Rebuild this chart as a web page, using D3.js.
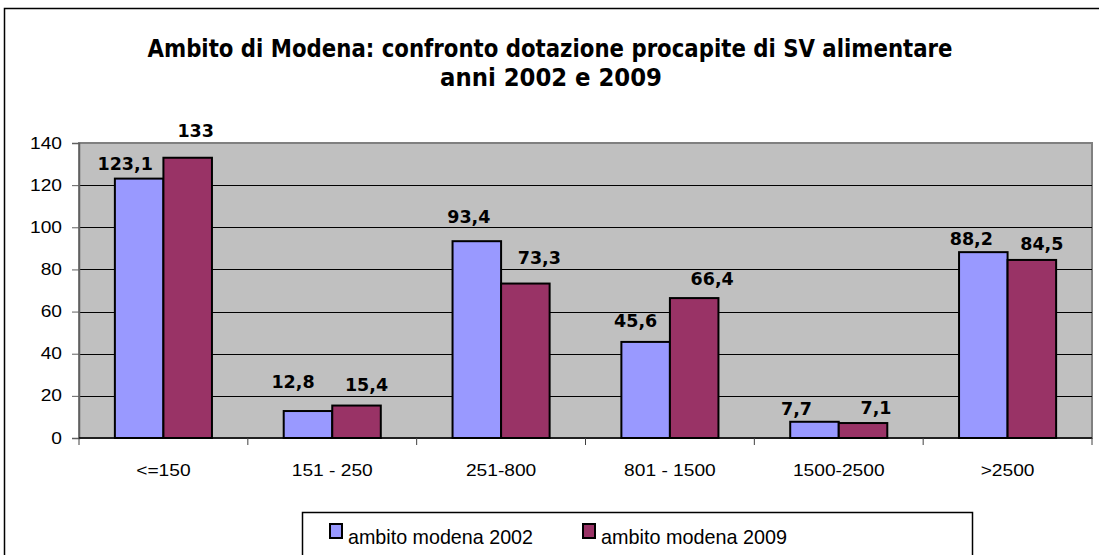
<!DOCTYPE html>
<html>
<head>
<meta charset="utf-8">
<script src="https://cdn.jsdelivr.net/npm/d3@7"></script>
<style>
  body { margin: 0; background: #fff; }
  svg { display: block; }
</style>
</head>
<body>
<div id="chart"></div>
<script>
// data
const categories = ['<=150', '151 - 250', '251-800', '801 - 1500', '1500-2500', '>2500']
const series = ['ambito modena 2002', 'ambito modena 2009']
const values2002 = [123.1, 12.8, 93.4, 45.6, 7.7, 88.2]
const values2009 = [133, 15.4, 73.3, 66.4, 7.1, 84.5]
const labels2002 = ['123,1', '12,8', '93,4', '45,6', '7,7', '88,2']
const labels2009 = ['133', '15,4', '73,3', '66,4', '7,1', '84,5']
const yTicks = [0, 20, 40, 60, 80, 100, 120, 140]
const colors = ['#9999FF', '#993366']

// labels were hand placed in the original, so nudge each one a bit
const nudge2002 = [[-14, 9], [-15, 23], [-8, 18], [-10, 15], [-18, 7], [-12, 7]]
const nudge2009 = [[8, 21], [10, 15], [14, 20], [18, 13], [13, 9], [10, 10]]

const W = 1099, H = 555
const plot = { left: 79, right: 1092, top: 143, bottom: 438 }
const wide = 'scale(1.2,1)'   // the original text is drawn a little stretched

const svg = d3.select('#chart').append('svg')
    .attr('width', W)
    .attr('height', H)

// outer chart frame (right and bottom edges fall off the picture)
svg.append('rect')
    .attr('x', 4.5).attr('y', 8.5)
    .attr('width', W + 10).attr('height', H)
    .attr('fill', '#fff')
    .attr('stroke', '#000')
    .attr('stroke-width', 1.5)

// title
const titleFont = '"DejaVu Sans Condensed", "DejaVu Sans", sans-serif'
svg.append('text')
    .attr('x', 550).attr('y', 57)
    .attr('text-anchor', 'middle')
    .attr('textLength', 805)
    .attr('lengthAdjust', 'spacingAndGlyphs')
    .style('font-family', titleFont)
    .style('font-stretch', 'condensed')
    .style('font-weight', 'bold')
    .style('font-size', '24px')
    .text('Ambito di Modena: confronto dotazione procapite di SV alimentare')
svg.append('text')
    .attr('x', 551).attr('y', 86)
    .attr('text-anchor', 'middle')
    .attr('textLength', 222)
    .attr('lengthAdjust', 'spacingAndGlyphs')
    .style('font-family', titleFont)
    .style('font-stretch', 'condensed')
    .style('font-weight', 'bold')
    .style('font-size', '24px')
    .text('anni 2002 e 2009')

const x0 = d3.scaleBand()
    .domain(categories)
    .range([plot.left, plot.right])
    .paddingInner(0.425)
    .paddingOuter(0.2125)

const x1 = d3.scaleBand()
    .domain(series)
    .range([0, x0.bandwidth()])

const y = d3.scaleLinear()
    .domain([0, 140])
    .range([plot.bottom, plot.top])

// plot background
svg.append('rect')
    .attr('x', plot.left).attr('y', plot.top)
    .attr('width', plot.right - plot.left)
    .attr('height', plot.bottom - plot.top)
    .attr('fill', '#C0C0C0')
    .attr('stroke', '#808080')
    .attr('stroke-width', 2)

// gridlines
svg.append('g')
    .selectAll('line')
    .data(yTicks.filter(d => d > 0 && d < 140))
    .enter()
    .append('line')
    .attr('x1', plot.left).attr('x2', plot.right)
    .attr('y1', d => Math.round(y(d)) + 0.5)
    .attr('y2', d => Math.round(y(d)) + 0.5)
    .attr('stroke', '#000')
    .attr('stroke-width', 1)

// y axis
const yAxis = svg.append('g')
    .attr('transform', 'translate(' + plot.left + ',0)')
    .call(d3.axisLeft(y).tickValues(yTicks).tickSize(7).tickPadding(10).tickFormat(d3.format('d')))
yAxis.select('.domain').attr('stroke', '#606060').attr('stroke-width', 1.5)
yAxis.selectAll('.tick line').attr('stroke', '#606060')
yAxis.selectAll('.tick text')
    .attr('x', 0)
    .attr('transform', 'translate(-17,0) ' + wide)
    .style('font-family', '"Liberation Sans", Arial, sans-serif')
    .style('font-size', '16px')
    .attr('fill', '#000')

// x axis: ticks sit on the category boundaries
const xAxis = svg.append('g')
    .attr('transform', 'translate(0,' + plot.bottom + ')')
xAxis.append('line')
    .attr('x1', plot.left).attr('x2', plot.right)
    .attr('stroke', '#000').attr('stroke-width', 1.5)
const step = x0.step()
xAxis.selectAll('line.tk')
    .data(d3.range(categories.length + 1))
    .enter()
    .append('line')
    .attr('class', 'tk')
    .attr('x1', i => plot.left + i * step)
    .attr('x2', i => plot.left + i * step)
    .attr('y1', 0).attr('y2', 7)
    .attr('stroke', '#404040')
xAxis.selectAll('text')
    .data(categories)
    .enter()
    .append('text')
    .attr('transform', d => 'translate(' + (x0(d) + x0.bandwidth() / 2) + ',38) ' + wide)
    .attr('text-anchor', 'middle')
    .style('font-family', '"Liberation Sans", Arial, sans-serif')
    .style('font-size', '16px')
    .text(d => d)

// bars
const rows = categories.map((c, i) => ({
    cat: c,
    vals: [
        { s: series[0], v: values2002[i], lab: labels2002[i], n: nudge2002[i], c: colors[0] },
        { s: series[1], v: values2009[i], lab: labels2009[i], n: nudge2009[i], c: colors[1] }
    ]
}))

const groups = svg.append('g')
    .selectAll('g')
    .data(rows)
    .enter()
    .append('g')
    .attr('transform', d => 'translate(' + x0(d.cat) + ',0)')

groups.selectAll('rect')
    .data(d => d.vals)
    .enter()
    .append('rect')
    .attr('x', d => x1(d.s))
    .attr('y', d => y(d.v))
    .attr('width', x1.bandwidth())
    .attr('height', d => y(0) - y(d.v))
    .attr('fill', d => d.c)
    .attr('stroke', '#000')
    .attr('stroke-width', 2)

groups.selectAll('text')
    .data(d => d.vals)
    .enter()
    .append('text')
    .attr('x', d => x1(d.s) + x1.bandwidth() / 2 + d.n[0])
    .attr('y', d => y(d.v) - d.n[1])
    .attr('text-anchor', 'middle')
    .style('font-family', '"DejaVu Sans", Verdana, sans-serif')
    .style('font-weight', 'bold')
    .style('font-size', '17.5px')
    .text(d => d.lab)

// legend
const legend = svg.append('g')
legend.append('rect')
    .attr('x', 302.5).attr('y', 512.5)
    .attr('width', 670).attr('height', 60)
    .attr('fill', '#fff')
    .attr('stroke', '#000')
    .attr('stroke-width', 1.5)
const legendX = [330, 583]
const items = legend.selectAll('g')
    .data(series)
    .enter()
    .append('g')
    .attr('transform', (d, i) => 'translate(' + legendX[i] + ',524)')
items.append('rect')
    .attr('width', 12).attr('height', 14)
    .attr('fill', (d, i) => colors[i])
    .attr('stroke', '#000')
    .attr('stroke-width', 2)
items.append('text')
    .attr('x', 18).attr('y', 20)
    .style('font-family', '"Liberation Sans", Arial, sans-serif')
    .style('font-size', '21px')
    .attr('textLength', d => d.endsWith('2002') ? 185 : 186)
    .attr('lengthAdjust', 'spacingAndGlyphs')
    .text(d => d)
</script>
</body>
</html>
